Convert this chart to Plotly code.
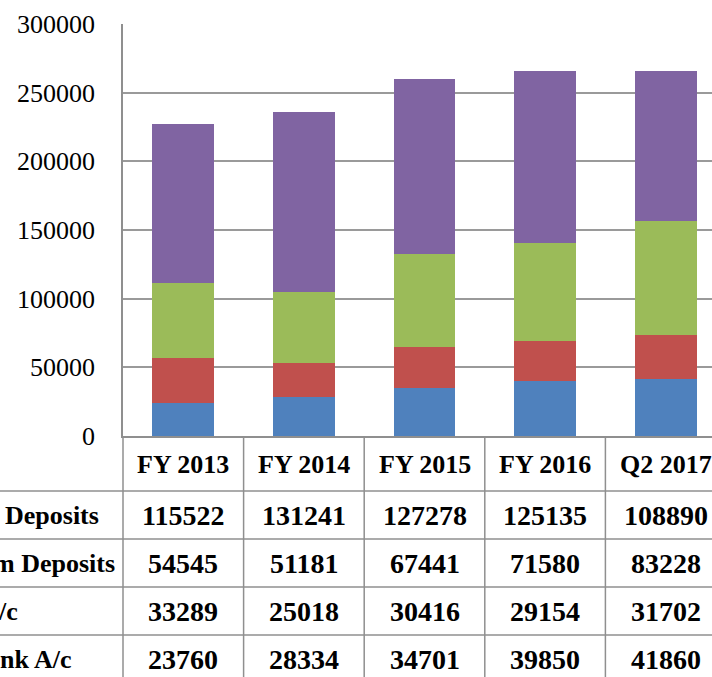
import plotly.graph_objects as go

categories = ["FY 2013", "FY 2014", "FY 2015", "FY 2016", "Q2 2017"]
row_labels = ["Deposits", "m Deposits", "/c", "nk A/c"]
deposits = [115522, 131241, 127278, 125135, 108890]
m_deposits = [54545, 51181, 67441, 71580, 83228]
ac = [33289, 25018, 30416, 29154, 31702]
nk_ac = [23760, 28334, 34701, 39850, 41860]
y_ticks = [0, 50000, 100000, 150000, 200000, 250000, 300000]

W, H = 712, 677
ML = 123
MT = 24
AXIS_Y = 436
MB = H - AXIS_Y
PW = W - ML
PH = AXIS_Y - MT
unit_px = 120.6
x0 = -0.5
x1 = x0 + PW / unit_px

def py(p):
    return (AXIS_Y - p) / PH

def px(p):
    return (p - ML) / PW

def cx(v):
    return (v - x0) / (x1 - x0)

series = [
    (row_labels[3], nk_ac, "#4F81BD"),
    (row_labels[2], ac, "#C0504D"),
    (row_labels[1], m_deposits, "#9BBB59"),
    (row_labels[0], deposits, "#8064A2"),
]

fig = go.Figure()
for name, vals, col in series:
    fig.add_trace(go.Bar(x=categories, y=vals, name=name, marker=dict(color=col, line=dict(width=0))))

line_col = "#8f8f8f"
shapes = []
row_top = 491
row_h = 48
for k in range(4):
    yp = py(row_top + k * row_h)
    shapes.append(dict(type="line", xref="paper", yref="paper", x0=px(-2), x1=1.01,
                       y0=yp, y1=yp, line=dict(color=line_col, width=1.5)))
for b in [x0, 0.5, 1.5, 2.5, 3.5]:
    xp = cx(b)
    shapes.append(dict(type="line", xref="paper", yref="paper", x0=xp, x1=xp,
                       y0=0, y1=py(690), line=dict(color=line_col, width=1.5)))

annotations = []
font_num = dict(family="Liberation Serif", size=28, color="black")
font_txt = dict(family="Liberation Serif", size=26, color="black")
header_y = py(464)
for i, c in enumerate(categories):
    annotations.append(dict(x=cx(i), y=header_y, xref="paper", yref="paper", text="<b>%s</b>" % c,
                            showarrow=False, font=font_txt, xanchor="center", yanchor="middle"))
table_rows = [deposits, m_deposits, ac, nk_ac]
label_right = [101, 117, 20, 74]
for r, (lab, vals) in enumerate(zip(row_labels, table_rows)):
    yc = py(row_top + r * row_h + row_h / 2)
    annotations.append(dict(x=px(label_right[r]), y=yc, xref="paper", yref="paper", text="<b>%s</b>" % lab,
                            showarrow=False, font=font_txt, xanchor="right", yanchor="middle"))
    for i, v in enumerate(vals):
        annotations.append(dict(x=cx(i), y=yc, xref="paper", yref="paper", text="<b>%d</b>" % v,
                                showarrow=False, font=font_num, xanchor="center", yanchor="middle"))

fig.update_layout(
    width=W, height=H,
    margin=dict(l=ML, r=0, t=MT, b=MB, pad=0),
    barmode="stack", bargap=0.486,
    showlegend=False,
    plot_bgcolor="white", paper_bgcolor="white",
    shapes=shapes, annotations=annotations,
    xaxis=dict(range=[x0, x1], showticklabels=False, showgrid=False, zeroline=False,
               showline=True, linecolor=line_col, linewidth=1.5, ticks=""),
    yaxis=dict(range=[0, 300000], tickvals=y_ticks, ticktext=[str(t) for t in y_ticks],
               showgrid=True, gridcolor="#9a9a9a", gridwidth=1.5, zeroline=False,
               showline=True, linecolor=line_col, linewidth=1.5, ticks="",
               ticklabelstandoff=21,
               tickfont=dict(family="Liberation Serif", size=26, color="black")),
)

fig.write_html("out.html",
               config={"displayModeBar": False},
               post_script="document.body.style.margin='0';document.body.style.overflow='hidden';")
